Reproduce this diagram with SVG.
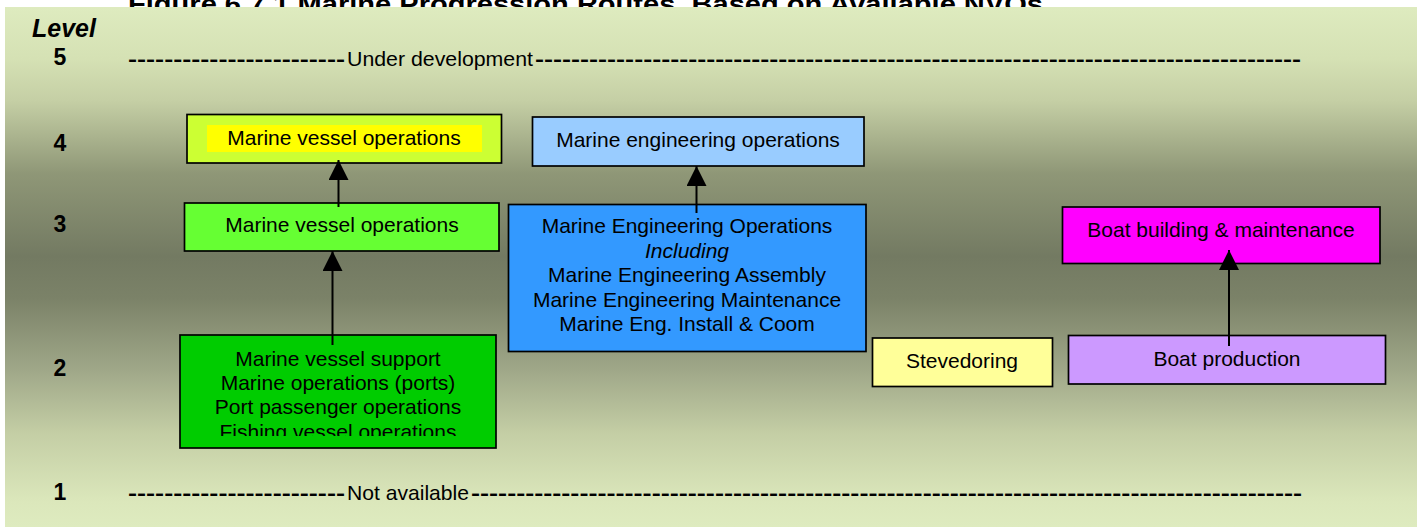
<svg xmlns="http://www.w3.org/2000/svg" width="1417" height="527" viewBox="0 0 1417 527">
<style>
.t{font-family:"Liberation Sans",Arial,sans-serif;font-size:21px;fill:#000;text-anchor:middle}
.lv{font-family:"Liberation Sans",Arial,sans-serif;font-size:23px;font-weight:bold;fill:#000;text-anchor:middle}
.d{font-family:"Liberation Sans",Arial,sans-serif;font-size:21px;fill:#000}
.dash{font-weight:bold}
.box{stroke:#000;stroke-width:1.7}
.conn line{stroke:#000;stroke-width:2}
</style>
<defs>
<linearGradient id="bg" x1="0" y1="0" x2="0" y2="1">
<stop offset="0" stop-color="#DEEBBF"/>
<stop offset="0.1" stop-color="#D5E1B4"/>
<stop offset="0.18" stop-color="#C5CFA5"/>
<stop offset="0.32" stop-color="#8F9777"/>
<stop offset="0.48" stop-color="#737A62"/>
<stop offset="0.56" stop-color="#7B8268"/>
<stop offset="0.7" stop-color="#A0A889"/>
<stop offset="0.82" stop-color="#C4CEA5"/>
<stop offset="0.95" stop-color="#DBE7BB"/>
<stop offset="1" stop-color="#DEEBBF"/>
</linearGradient>
<marker id="ah" markerUnits="userSpaceOnUse" markerWidth="20" markerHeight="20" viewBox="0 0 20 20" refX="20" refY="10" orient="auto">
<path d="M0,0 L20,10 L0,20 z" fill="#000"/>
</marker>
<clipPath id="clipG"><rect x="180" y="335" width="316" height="101"/></clipPath>
</defs>
<rect width="1417" height="527" fill="#fff"/>
<text x="128" y="13" font-family="'Liberation Sans',Arial,sans-serif" font-size="25" font-weight="bold" textLength="915" lengthAdjust="spacingAndGlyphs">Figure 6.7.1 Marine Progression Routes, Based on Available NVQs</text>
<rect x="5" y="7" width="1412" height="520" fill="url(#bg)"/>

<g id="levels">
<text x="32" y="37" font-family="'Liberation Sans',Arial,sans-serif" font-size="25" font-weight="bold" font-style="italic">Level</text>
<text class="lv" x="60" y="65">5</text>
<text class="lv" x="60" y="151">4</text>
<text class="lv" x="60" y="232">3</text>
<text class="lv" x="60" y="376">2</text>
<text class="lv" x="60" y="500">1</text>
</g>

<g id="level5-line">
<text class="d dash" x="128" y="66" textLength="217" lengthAdjust="spacingAndGlyphs">------------------------</text>
<text class="d" x="347" y="66" textLength="186" lengthAdjust="spacingAndGlyphs">Under development</text>
<text class="d dash" x="535" y="66" textLength="766" lengthAdjust="spacingAndGlyphs">-------------------------------------------------------------------------------------</text>
</g>
<g id="level1-line">
<text class="d dash" x="128" y="500" textLength="217" lengthAdjust="spacingAndGlyphs">------------------------</text>
<text class="d" x="347" y="500" textLength="122" lengthAdjust="spacingAndGlyphs">Not available</text>
<text class="d dash" x="471" y="500" textLength="831" lengthAdjust="spacingAndGlyphs">--------------------------------------------------------------------------------------------</text>
</g>

<g id="n-vessel4">
<rect class="box" x="187" y="114.5" width="314.5" height="48.5" fill="#CCFF33"/>
<rect x="207" y="125" width="275" height="27" fill="#FFFF00"/>
<text class="t" x="344" y="145">Marine vessel operations</text>
</g>
<g id="n-vessel3">
<rect class="box" x="184.5" y="203" width="314.5" height="48" fill="#66FF33"/>
<text class="t" x="342" y="232">Marine vessel operations</text>
</g>
<g id="n-eng4">
<rect class="box" x="532.5" y="117" width="331.5" height="49" fill="#99CCFF"/>
<text class="t" x="698" y="147">Marine engineering operations</text>
</g>
<g id="n-eng3">
<rect class="box" x="508.5" y="204.5" width="357.5" height="147" fill="#3399FF"/>
<text class="t" x="687" y="233">Marine Engineering Operations</text>
<text class="t" x="687" y="257.5" font-style="italic">Including</text>
<text class="t" x="687" y="282">Marine Engineering Assembly</text>
<text class="t" x="687" y="306.5">Marine Engineering Maintenance</text>
<text class="t" x="687" y="331">Marine Eng. Install &amp; Coom</text>
</g>
<g id="n-vessel2">
<rect class="box" x="180" y="335" width="316" height="113" fill="#00CC00"/>
<g clip-path="url(#clipG)">
<text class="t" x="338" y="366">Marine vessel support</text>
<text class="t" x="338" y="390">Marine operations (ports)</text>
<text class="t" x="338" y="414">Port passenger operations</text>
<text class="t" x="338" y="438.5">Fishing vessel operations</text>
</g>
</g>
<g id="n-steve">
<rect class="box" x="872.5" y="338" width="180" height="48.5" fill="#FFFF99"/>
<text class="t" x="962" y="368">Stevedoring</text>
</g>
<g id="n-boatbuild">
<rect class="box" x="1062.5" y="207" width="317.5" height="56.5" fill="#FF00FF"/>
<text class="t" x="1221" y="237">Boat building &amp; maintenance</text>
</g>
<g id="n-boatprod">
<rect class="box" x="1068.5" y="335.5" width="317" height="48.5" fill="#CC99FF"/>
<text class="t" x="1227" y="366">Boat production</text>
</g>

<g id="connectors" class="conn">
<line x1="338.5" y1="207" x2="338.5" y2="160" marker-end="url(#ah)"/>
<line x1="332.5" y1="345" x2="332.5" y2="251" marker-end="url(#ah)"/>
<line x1="696.5" y1="213" x2="696.5" y2="166" marker-end="url(#ah)"/>
<line x1="1229" y1="346" x2="1229" y2="250" marker-end="url(#ah)"/>
</g>
</svg>
